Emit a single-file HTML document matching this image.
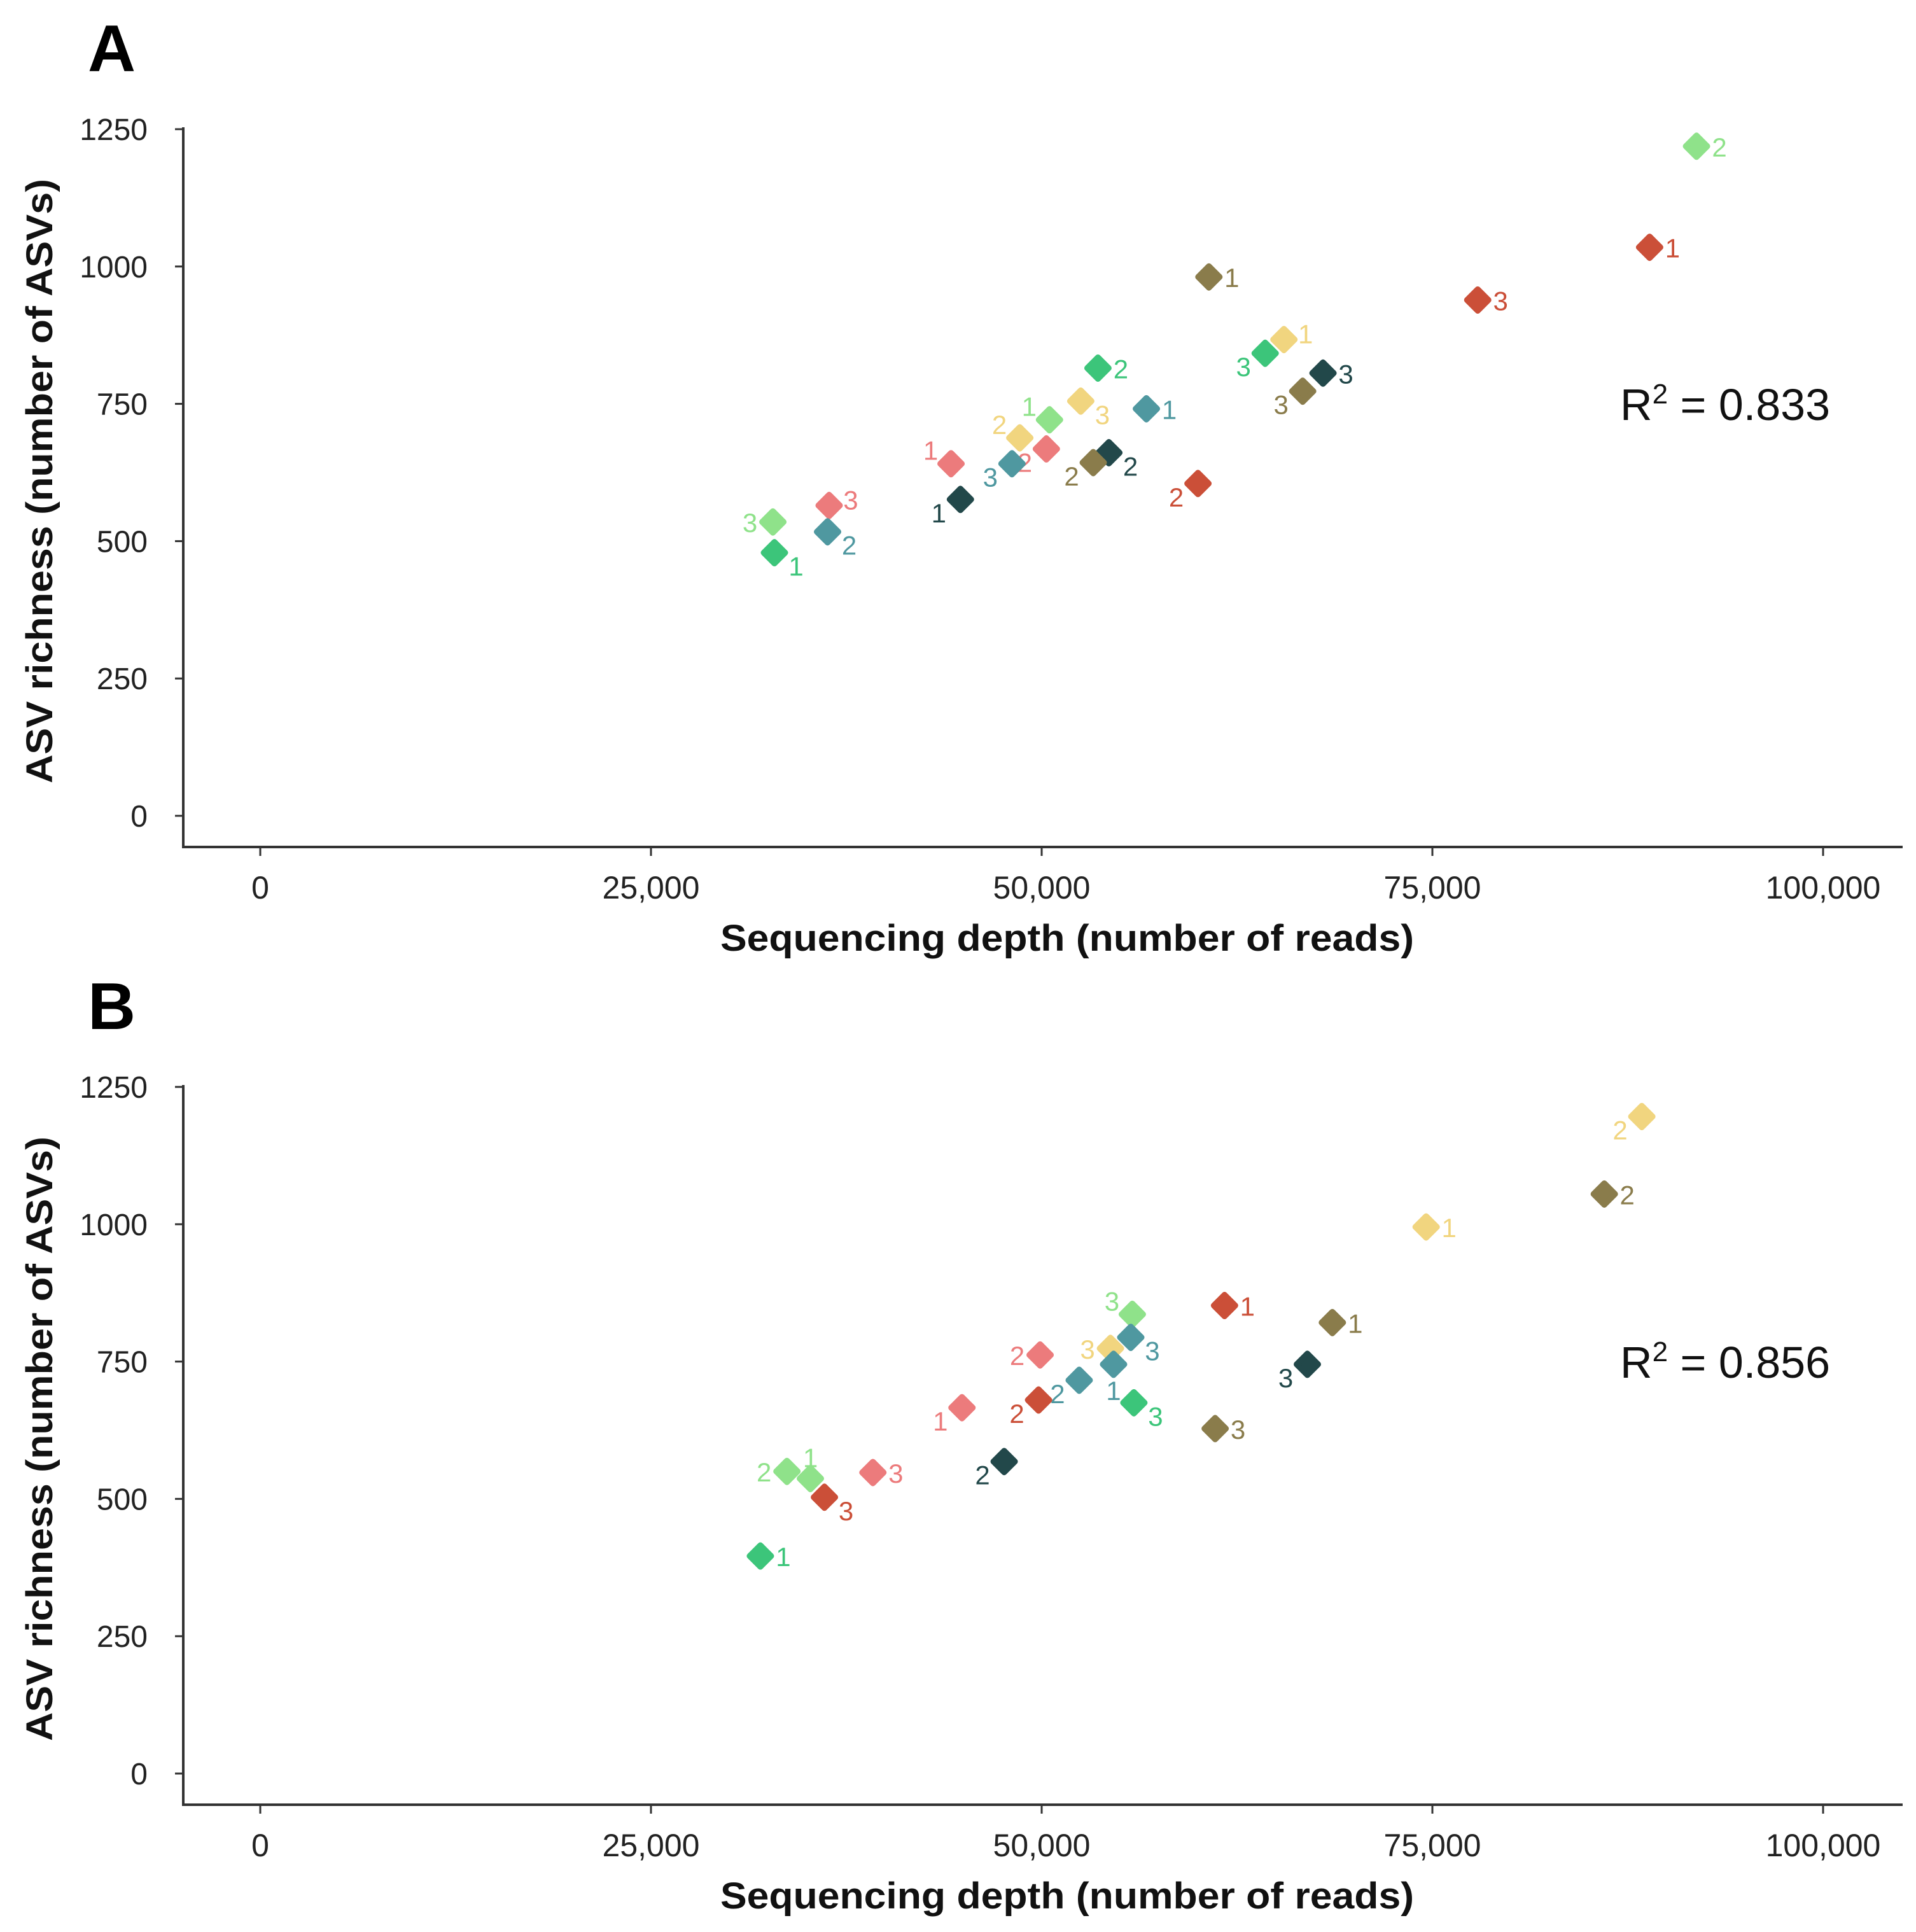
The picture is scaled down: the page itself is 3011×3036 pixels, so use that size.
<!DOCTYPE html>
<html><head><meta charset="utf-8"><style>
html,body{margin:0;padding:0;background:#fff}
svg{display:block;font-family:"Liberation Sans",Arial,sans-serif}
</style></head><body>
<svg id="chart" width="3011" height="3036" viewBox="0 0 3011 3036" xmlns="http://www.w3.org/2000/svg"></svg>
<script>
// Shared
const xTicks = [0, 25000, 50000, 75000, 100000];
const xTickLabels = ["0", "25,000", "50,000", "75,000", "100,000"];
const yTicks = [0, 250, 500, 750, 1000, 1250];
const yTickLabels = ["0", "250", "500", "750", "1000", "1250"];
const groupColors = ["#8fe28a", "#3cc57a", "#4f98a0", "#22484a", "#8a7c4b", "#f1d57f", "#ec7b7c", "#cb4f38"];
// Panel A
const aGroups = [0,7,4,7,5,1,3,1,4,2,0,5,5,6,3,4,2,6,7,3,6,0,2,1];
const aReps   = ["2","1","1","3","1","3","3","2","3","1","1","3","2","2","2","2","3","1","2","1","3","3","2","1"];
const aDepth  = [91900,88900,60700,77900,65500,64300,68000,53600,66700,56700,50500,52500,48600,50300,54300,53300,48100,44200,60000,44800,36400,32800,36300,32900];
const aRich   = [1219,1035,981,939,867,842,806,815,773,741,721,755,688,668,661,643,641,641,605,576,565,535,517,479];
const aLabelPos = ["r","r","r","r","tr","bl","r","r","bl","r","tl","br","tl","bl","br","bl","bl","tl","bl","bl","tr","l","br","br"];
const aR2 = "0.833";
// Panel B
const bGroups = [5,4,5,7,4,0,2,5,6,2,3,2,1,7,6,4,3,0,0,6,7,1];
const bReps   = ["2","2","1","1","1","3","3","3","2","1","3","2","3","2","1","3","2","2","1","3","3","1"];
const bDepth  = [88400,86000,74600,61700,68600,55800,55700,54400,49900,54600,67000,52400,55900,49800,44900,61100,47600,33700,35200,39200,36100,32000];
const bRich   = [1196,1055,995,852,821,836,794,774,762,745,745,716,675,680,666,628,568,550,537,548,503,396];
const bLabelPos = ["bl","r","r","r","r","tl","br","l","l","b","bl","bl","br","bl","bl","r","bl","l","t","r","br","r"];
const bR2 = "0.856";

const NS = "http://www.w3.org/2000/svg";
const svg = document.getElementById("chart");
function mk(tag, attrs, parent, text) {
  const e = document.createElementNS(NS, tag);
  for (const k in attrs) e.setAttribute(k, attrs[k]);
  if (text !== undefined) e.textContent = text;
  (parent || svg).appendChild(e);
  return e;
}
const offsets = {r:[36,2], l:[-36,2], bl:[-34,22], br:[34,22], tl:[-32,-20], tr:[34,-8], t:[0,-32], b:[0,42]};

function panel(off, letter, groups, reps, depth, rich, labelPos, r2) {
  const g = mk("g", {});
  
  
  const xS = v => 409 + v * (1228 / 50000);
  const yS = v => off + 1282 - v * (1079 / 1250);
  const t = mk("text", {x:138, y:off+112, "font-size":104, "font-weight":"bold", fill:"#000"}, g, letter);
  
  
  const ya = mk("line", {x1:288, y1:off+200, x2:288, y2:off+1333, stroke:"#333", "stroke-width":4}, g);
  
  
  const xa = mk("line", {x1:286, y1:off+1331, x2:2990, y2:off+1331, stroke:"#333", "stroke-width":4}, g);
  
  
  yTicks.forEach((v, i) => {
    mk("line", {x1:275, y1:yS(v), x2:288, y2:yS(v), stroke:"#333", "stroke-width":3}, g);
    const l = mk("text", {x:232, y:yS(v)+17, "text-anchor":"end", "font-size":48, fill:"#222"}, g, yTickLabels[i]);
    
    
  });
  xTicks.forEach((v, i) => {
    mk("line", {x1:xS(v), y1:off+1331, x2:xS(v), y2:off+1345, stroke:"#333", "stroke-width":3}, g);
    const l = mk("text", {x:xS(v), y:off+1412, "text-anchor":"middle", "font-size":50, fill:"#222"}, g, xTickLabels[i]);
    
    
  });
  const yt = mk("text", {x:0, y:0, transform:`translate(82,${off+756}) rotate(-90)`, "text-anchor":"middle", "font-size":58, "font-weight":"bold", "font-family":"'Liberation Sans Narrow','Liberation Sans',sans-serif", textLength:950, lengthAdjust:"spacingAndGlyphs", fill:"#111"}, g, "ASV richness (number of ASVs)");
  
  
  const xt = mk("text", {x:1677, y:off+1494, "text-anchor":"middle", "font-size":58, "font-weight":"bold", "font-family":"'Liberation Sans Narrow','Liberation Sans',sans-serif", textLength:1090, lengthAdjust:"spacingAndGlyphs", fill:"#111"}, g, "Sequencing depth (number of reads)");
  
  
  const r = mk("text", {x:2546, y:off+660, "font-size":70, fill:"#111"}, g);
  
  
  mk("tspan", {}, r, "R");
  mk("tspan", {dy:-26, "font-size":44}, r, "2");
  mk("tspan", {dy:26}, r, " = " + r2);
  depth.forEach((d, i) => {
    const cx = xS(d), cy = yS(rich[i]), c = groupColors[groups[i]], h = 17;
    const p = mk("polygon", {points:`${cx},${cy-h} ${cx+h},${cy} ${cx},${cy+h} ${cx-h},${cy}`, fill:c, stroke:c, "stroke-width":9, "stroke-linejoin":"round"}, g);
    
    
    const o = offsets[labelPos[i]];
    const lb = mk("text", {x:cx+o[0], y:cy+o[1]+14, "text-anchor":"middle", "font-size":42, fill:c}, g, reps[i]);
    
    
  });
}
panel(0, "A", aGroups, aReps, aDepth, aRich, aLabelPos, aR2);
panel(1505, "B", bGroups, bReps, bDepth, bRich, bLabelPos, bR2);
</script>
</body></html>
